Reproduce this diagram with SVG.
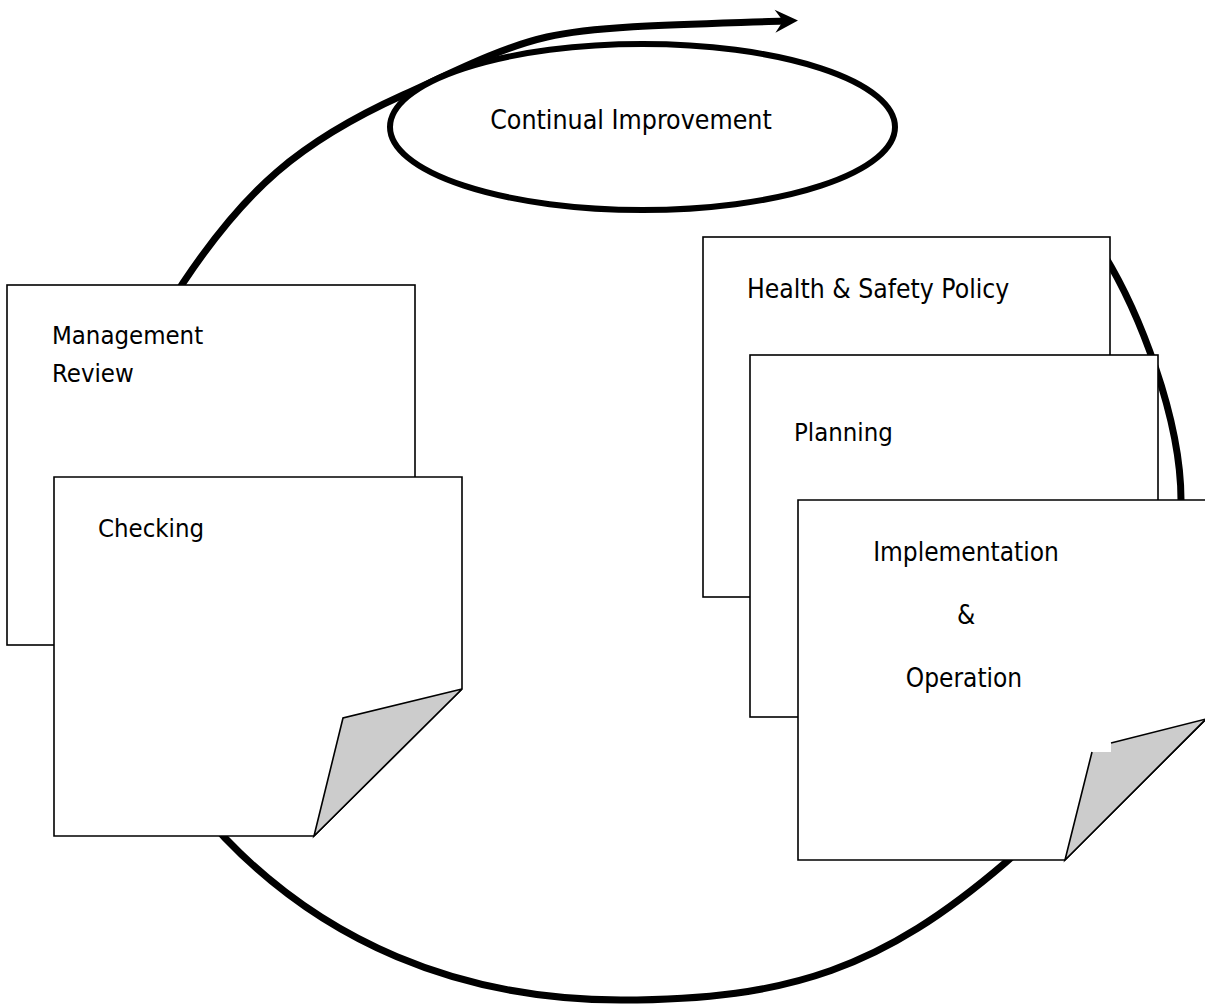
<svg xmlns="http://www.w3.org/2000/svg" width="1205" height="1004" viewBox="0 0 1205 1004">
  <style>
    .lbl { font-family: "DejaVu Sans Condensed", "DejaVu Sans", sans-serif; font-stretch: condensed; font-size: 25.5px; fill: #000; }
    .box { fill: #fff; stroke: #000; stroke-width: 1.6; }
    .fold { fill: #cccccc; stroke: none; }
    .edge { fill: none; stroke: #000; stroke-width: 1.6; stroke-linejoin: miter; }
    .cycle { fill: none; stroke: #000; stroke-width: 7; }
  </style>
  <defs>
    <marker id="head" markerUnits="userSpaceOnUse" viewBox="-10 -13 26 26" markerWidth="26" markerHeight="26" refX="0" refY="0" orient="auto">
      <path d="M -9,-11.5 L 14,0 L -9,11.5 L -1,0 Z" fill="#000"/>
    </marker>
  </defs>

  <g id="connectors">
    <path class="cycle" marker-end="url(#head)" d="M 1098,245 C 1140,310 1181,420 1181,500 C 1181,650 1119,765 1005,863 C 883.4,967 791,1000 621,1000 C 455,1000 321.6,938.8 225,838 C 87,694 73,449 183,283 C 245,190 298.4,142.2 403,95 C 448.5,74.5 498.5,48 547,37 C 600,25 700,24 784,21"/>
  </g>

  <g id="continual-improvement">
    <ellipse cx="642.5" cy="127" rx="252.5" ry="83" fill="#fff" stroke="#000" stroke-width="6"/>
    <text class="lbl" x="631" y="129" text-anchor="middle" style="font-size:26.5px">Continual Improvement</text>
  </g>

  <g id="health-safety-policy">
    <rect class="box" x="703" y="237" width="407" height="360"/>
    <text class="lbl" x="747" y="298" style="font-size:26.3px">Health &amp; Safety Policy</text>
  </g>

  <g id="planning">
    <rect class="box" x="750" y="355" width="408" height="362"/>
    <text class="lbl" x="794" y="441">Planning</text>
  </g>

  <g id="implementation-operation">
    <polygon class="box" points="798,500 1206,500 1206,719 1065,860 798,860"/>
    <polygon class="fold" points="1206,719 1111,743 1111,752 1092,752 1065,860"/>
    <polyline class="edge" points="1206,719 1111,743"/>
    <polyline class="edge" points="1092,752 1065,860 1206,719"/>
    <text class="lbl" x="966" y="561" text-anchor="middle" style="font-size:26px">Implementation</text>
    <text class="lbl" x="966" y="624" text-anchor="middle" style="font-size:26px">&amp;</text>
    <text class="lbl" x="964" y="687" text-anchor="middle" style="font-size:26px">Operation</text>
  </g>

  <g id="management-review">
    <rect class="box" x="7" y="285" width="408" height="360"/>
    <text class="lbl" x="52" y="344">Management</text>
    <text class="lbl" x="52" y="382">Review</text>
  </g>

  <g id="checking">
    <polygon class="box" points="54,477 462,477 462,689 314,836 54,836"/>
    <polygon class="fold" points="462,689 343,718 314,836"/>
    <polyline class="edge" points="462,689 343,718 314,836 462,689"/>
    <text class="lbl" x="98" y="537">Checking</text>
  </g>
</svg>
